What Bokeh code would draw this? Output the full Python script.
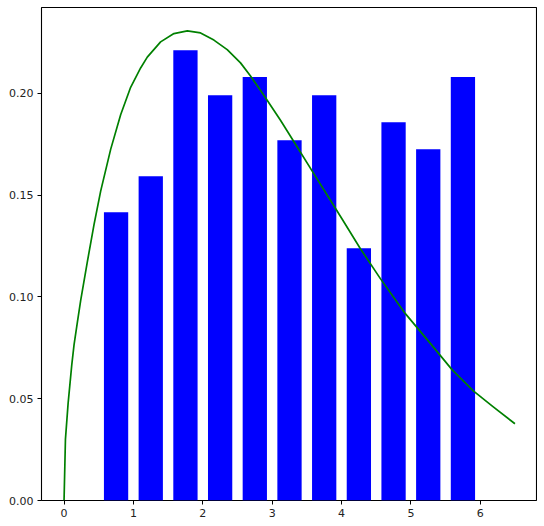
from bokeh.plotting import figure
from bokeh.models import FixedTicker, Range1d, NumeralTickFormatter
from bokeh.embed import file_html
from bokeh.resources import INLINE

# histogram bins (centres) and densities
bin_centers = [0.75, 1.25, 1.75, 2.25, 2.75, 3.25, 3.75, 4.25, 4.75, 5.25, 5.75]
densities = [0.1416, 0.1593, 0.2212, 0.1991, 0.2080, 0.1770, 0.1991, 0.1239, 0.1858, 0.1726, 0.2080]

# fitted density curve
curve_x = [0.0, 0.02, 0.058, 0.111, 0.144, 0.193, 0.240, 0.337, 0.432, 0.528, 0.672, 0.816,
           0.960, 1.104, 1.200, 1.392, 1.584, 1.777, 1.968, 2.160, 2.352, 2.544, 2.688, 2.880,
           3.120, 3.361, 3.600, 3.840, 4.008, 4.272, 4.560, 4.920, 5.280, 5.592, 5.904, 6.192, 6.5]
curve_y = [0.0, 0.030, 0.0475, 0.0665, 0.0765, 0.0878, 0.0983, 0.1175, 0.1355, 0.1520, 0.1725, 0.1895,
           0.2030, 0.2125, 0.2178, 0.2253, 0.2294, 0.2307, 0.2297, 0.2262, 0.2215, 0.2150, 0.2085, 0.1991,
           0.1868, 0.1737, 0.1606, 0.1475, 0.1383, 0.1237, 0.1090, 0.0918, 0.0772, 0.0643, 0.0537, 0.0459, 0.0377]

x_ticks = [0, 1, 2, 3, 4, 5, 6]
y_ticks = [0.0, 0.05, 0.10, 0.15, 0.20]

p = figure(output_backend="svg", toolbar_location=None,
           frame_width=496, frame_height=493,
           min_border_top=7, min_border_right=0, min_border_left=41, min_border_bottom=10,
           x_range=Range1d(-0.325, 6.825), y_range=Range1d(0, 0.2422))

p.vbar(x=bin_centers, top=densities, bottom=0, width=0.35, fill_color="blue", line_color=None)
p.line(curve_x, curve_y, line_color="green", line_width=1.7, line_join="round")

p.xgrid.visible = False
p.ygrid.visible = False
p.outline_line_color = "black"
p.outline_line_width = 1.1
p.outline_line_alpha = 1.0

p.xaxis.ticker = FixedTicker(ticks=x_ticks)
p.yaxis.ticker = FixedTicker(ticks=y_ticks)
p.yaxis.formatter = NumeralTickFormatter(format="0.00")
for ax in (p.xaxis, p.yaxis):
    ax.axis_line_color = None
    ax.major_tick_line_color = "black"
    ax.major_tick_in = 0
    ax.major_tick_out = 4
    ax.minor_tick_line_color = None
    ax.major_label_text_font = "DejaVu Sans"
    ax.major_label_text_font_size = "11px"
    ax.major_label_text_color = "#222222"
    ax.major_label_standoff = 4

open("out.html", "w").write(file_html(p, INLINE))
